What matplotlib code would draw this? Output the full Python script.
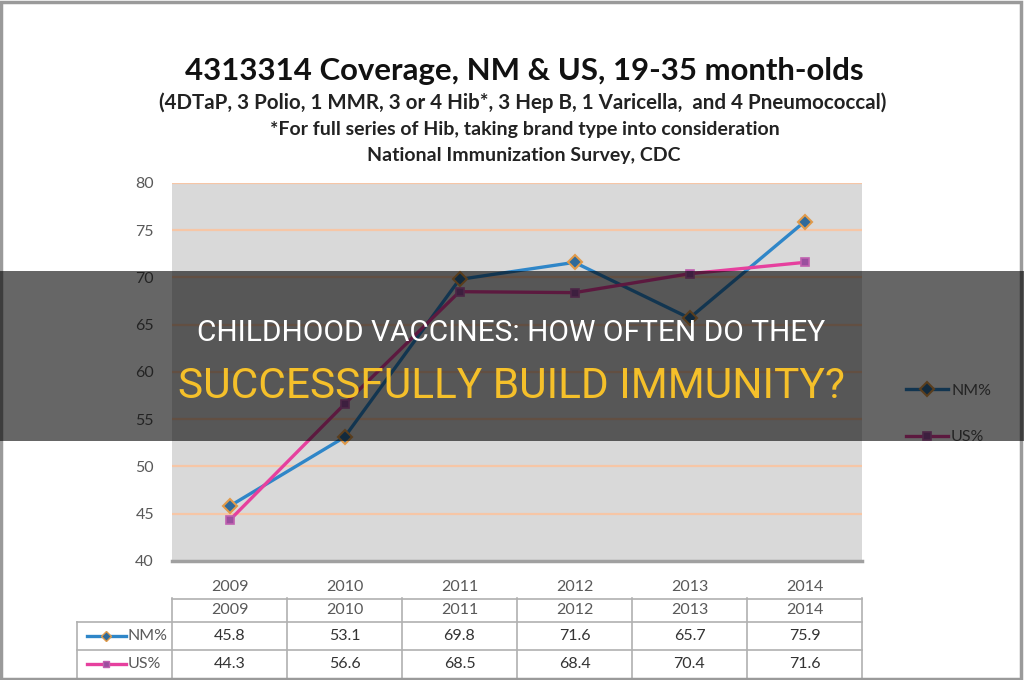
import matplotlib.pyplot as plt
from matplotlib.lines import Line2D
from matplotlib.patches import Rectangle

years = ['2009', '2010', '2011', '2012', '2013', '2014']
nm_pct = [45.8, 53.1, 69.8, 71.6, 65.7, 75.9]
us_pct = [44.3, 56.6, 68.5, 68.4, 70.4, 71.6]
series_names = ['NM%', 'US%']

title = '4313314 Coverage, NM & US, 19-35 month-olds'
subtitle = '(4DTaP, 3 Polio, 1 MMR, 3 or 4 Hib*, 3 Hep B, 1 Varicella,  and 4 Pneumococcal)'
note1 = '*For full series of Hib, taking brand type into consideration'
note2 = 'National Immunization Survey, CDC'
banner1 = 'CHILDHOOD VACCINES: HOW OFTEN DO THEY'
banner2 = 'SUCCESSFULLY BUILD IMMUNITY?'

W, H = 1024, 680
NM_LINE, NM_FACE, NM_EDGE = '#2f86c8', '#2f6a9a', '#e09a4a'
US_LINE, US_FACE, US_EDGE = '#e6409e', '#9a4f9e', '#c060b0'
GRAY_TXT = '#595959'

plt.rcParams['font.family'] = ['Lato', 'DejaVu Sans']


def fx(px):
    return px / W


def fy(py):
    return 1 - py / H


fig = plt.figure(figsize=(W / 100, H / 100), dpi=100)

# outer frame of the screenshot
fig.patches.append(Rectangle((0.001, 0.001), 0.996, 0.996, transform=fig.transFigure,
                             fill=False, edgecolor='#9a9a9a', lw=2.5))

# titles
fig.text(fx(524), fy(71), title, ha='center', va='center', fontsize=22.4, fontweight='bold', color='#111111')
fig.text(fx(523), fy(103), subtitle, ha='center', va='center', fontsize=14.8, fontweight='bold', color='#222222')
fig.text(fx(525), fy(130), note1, ha='center', va='center', fontsize=14, fontweight='bold', color='#222222')
fig.text(fx(524), fy(156), note2, ha='center', va='center', fontsize=14, fontweight='bold', color='#222222')

# main chart
x = list(range(len(years)))
ax = fig.add_axes([fx(172), fy(561), fx(862) - fx(172), fy(183) - fy(561)])
ax.set_facecolor('#d9d9d9')
ax.set_xlim(-0.5, 5.5)
ax.set_ylim(40, 80)
ax.set_yticks(range(40, 81, 5))
ax.set_xticks(x)
ax.set_xticklabels(years)
for v in range(45, 81, 5):
    ax.axhline(v, color='#f6c6a6', lw=1.6, zorder=1)
for s in ['top', 'left', 'right']:
    ax.spines[s].set_visible(False)
ax.spines['bottom'].set_color('#a0a0a0')
ax.spines['bottom'].set_linewidth(2.5)
ax.tick_params(length=0, labelsize=11.5, colors=GRAY_TXT)
ax.tick_params(axis='y', pad=13)
ax.tick_params(axis='x', pad=14)

ax.plot(x, nm_pct, color=NM_LINE, lw=2.4, marker='D', ms=7, mfc=NM_FACE, mec=NM_EDGE, mew=1.5,
        zorder=3, label=series_names[0])
ax.plot(x, us_pct, color=US_LINE, lw=2.4, marker='s', ms=6, mfc=US_FACE, mec=US_EDGE, mew=1.2,
        zorder=3, label=series_names[1])

handles, labels = ax.get_legend_handles_labels()
fig.legend(handles, labels, loc='center left', bbox_to_anchor=(fx(892), fy(414)), frameon=False,
           labelspacing=2.0, handlelength=2.6, handletextpad=0.2, fontsize=11.5, labelcolor=GRAY_TXT)

# data table under the chart
tax = fig.add_axes([fx(77), 0, fx(862) - fx(77), fy(598)])
tax.set_xlim(-0.5 - 95 / 115, 5.5)
tax.set_ylim(680, 598)
tax.axis('off')
tcol = '#b0b0b0'
edges = [i - 0.5 for i in range(len(years) + 1)]
tax.plot([edges[0], edges[-1]], [598.5, 598.5], color=tcol, lw=1.2, clip_on=False)
for yy in [622, 650]:
    tax.plot([-0.5 - 95 / 115, edges[-1]], [yy, yy], color=tcol, lw=1.2, clip_on=False)
for e in edges:
    tax.plot([e, e], [598, 680], color=tcol, lw=1.2, clip_on=False)
tax.plot([-0.5 - 95 / 115] * 2, [622, 680], color=tcol, lw=1.2, clip_on=False)

for i, yr in enumerate(years):
    tax.text(i, 610, yr, ha='center', va='center', fontsize=11.5, color=GRAY_TXT)
rows = [(nm_pct, 636, NM_LINE, 'D', NM_FACE, NM_EDGE), (us_pct, 664, US_LINE, 's', US_FACE, US_EDGE)]
for (vals, yy, lc, mk, mf, me), name in zip(rows, series_names):
    for i, v in enumerate(vals):
        tax.text(i, yy, f'{v:.1f}', ha='center', va='center', fontsize=11.5, color='#333333')
    tax.add_line(Line2D([-1.24, -0.9], [yy, yy], color=lc, lw=2.4))
    tax.add_line(Line2D([-1.07], [yy], marker=mk, ms=5, mfc=mf, mec=me, color=lc))
    tax.text(-0.89, yy, name, ha='left', va='center', fontsize=11.5, color=GRAY_TXT)

# dark banner over the middle
fig.patches.append(Rectangle((0, fy(441)), 1, fy(271) - fy(441), transform=fig.transFigure,
                             facecolor='black', alpha=0.6, zorder=10))
banner_font = ['Roboto', 'DejaVu Sans']
fig.text(fx(511), fy(333), banner1, ha='center', va='center', fontsize=21.5, color='white',
         family=banner_font, zorder=11)
fig.text(fx(511), fy(386), banner2, ha='center', va='center', fontsize=30.5, color='#f5c02a',
         family=banner_font, zorder=11)

fig.savefig('out.png', dpi=100)
